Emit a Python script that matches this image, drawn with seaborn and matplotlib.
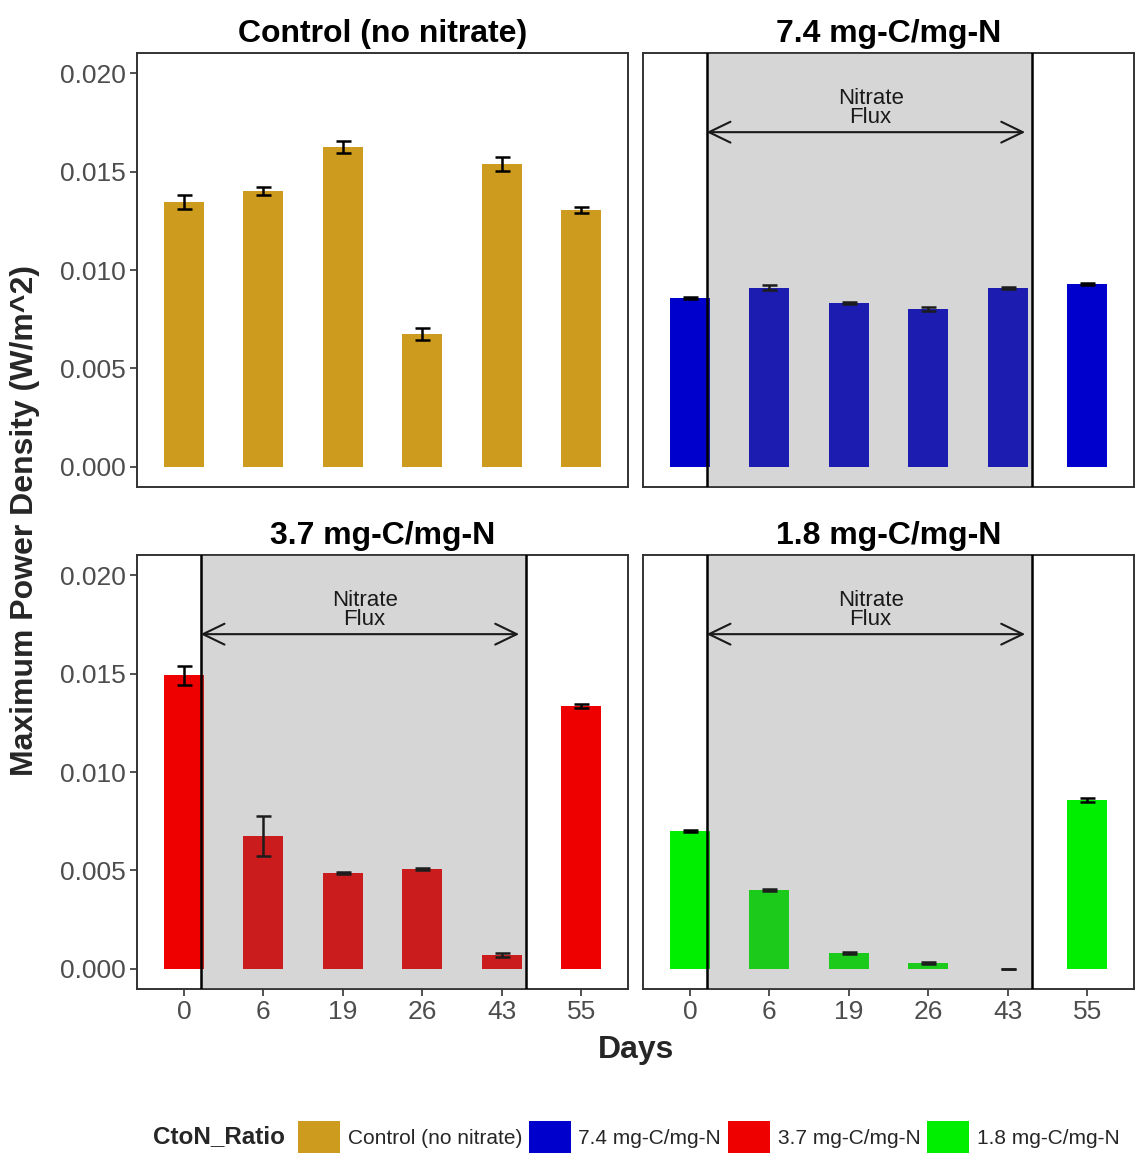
import matplotlib
matplotlib.use("Agg")
import matplotlib.pyplot as plt
from matplotlib.patches import Patch
import seaborn as sns
import pandas as pd
import numpy as np

sns.set_style("white")
plt.rcParams['font.family'] = ['Liberation Sans', 'DejaVu Sans']

days = ["0", "6", "19", "26", "43", "55"]
groups = ["Control (no nitrate)", "7.4 mg-C/mg-N", "3.7 mg-C/mg-N", "1.8 mg-C/mg-N"]
colors = ["#CD9B1D", "#0000CD", "#EE0000", "#00EE00"]

control_vals = [0.01345, 0.01400, 0.01624, 0.00675, 0.01538, 0.01305]
control_err = [0.00036, 0.00020, 0.00030, 0.00028, 0.00036, 0.00015]
c74_vals = [0.00858, 0.00909, 0.00832, 0.00802, 0.00909, 0.00929]
c74_err = [0.00005, 0.00013, 0.00004, 0.00008, 0.00007, 0.00005]
c37_vals = [0.01492, 0.00675, 0.00487, 0.00508, 0.00071, 0.01335]
c37_err = [0.00048, 0.00100, 0.00004, 0.00004, 0.00010, 0.00010]
c18_vals = [0.00700, 0.00401, 0.00081, 0.00030, 0.00000, 0.00858]
c18_err = [0.00004, 0.00004, 0.00004, 0.00003, 0.00002, 0.00009]

all_vals = [control_vals, c74_vals, c37_vals, c18_vals]
all_errs = [control_err, c74_err, c37_err, c18_err]

df = pd.DataFrame({
    "CtoN_Ratio": np.repeat(groups, len(days)),
    "Day": days * len(groups),
    "Power": np.concatenate(all_vals),
    "Err": np.concatenate(all_errs),
})

flux_start, flux_end = 0.21, 4.3
arrow_y = 0.0170
text_y = 0.01822

W, H = 1139, 1156
fig = plt.figure(figsize=(W / 100, H / 100), dpi=100)
pos = {
    0: (137, 53), 1: (643, 53), 2: (137, 555), 3: (643, 555)
}
pw, ph = 491, 434
dark = "#333333"
tickc = "#4d4d4d"

for i, g in enumerate(groups):
    x0, y0 = pos[i]
    ax = fig.add_axes([x0 / W, 1 - (y0 + ph) / H, pw / W, ph / H])
    sub = df[df["CtoN_Ratio"] == g]
    sns.barplot(data=sub, x="Day", y="Power", order=days, color=colors[i],
                saturation=1, width=0.5, errorbar=None, ax=ax, linewidth=0, zorder=2)
    xs = np.arange(len(days))
    ax.errorbar(xs, sub["Power"].values, yerr=sub["Err"].values, fmt="none",
                ecolor="black", elinewidth=1.8, capsize=5.4, capthick=1.8, zorder=3)
    if i > 0:
        ax.axvspan(flux_start, flux_end, color=(0.41, 0.41, 0.41), alpha=0.27,
                   lw=0, zorder=4)
        ax.axvline(flux_start, color="black", lw=1.8, zorder=5)
        ax.axvline(flux_end, color="black", lw=1.8, zorder=5)
        ax.annotate("", xy=(flux_start, arrow_y), xytext=(flux_end - 0.08, arrow_y),
                    arrowprops=dict(arrowstyle="<->,head_length=1.55,head_width=0.75",
                                    color="#1a1a1a", lw=1.5, shrinkA=0, shrinkB=0),
                    zorder=6)
        ax.text((flux_start + flux_end) / 2 + 0.02, text_y, "Nitrate\nFlux",
                ha="center", va="center", fontsize=16, color="#1a1a1a",
                linespacing=0.9, zorder=6)
    ax.set_xlim(-0.59, 5.59)
    ax.set_ylim(-0.00102, 0.02102)
    ax.set_yticks([0.0, 0.005, 0.010, 0.015, 0.020])
    ax.set_yticklabels(["0.000", "0.005", "0.010", "0.015", "0.020"])
    ax.set_xlabel("")
    ax.set_ylabel("")
    ax.set_title(g, fontsize=23, fontweight="bold", color="black", pad=8)
    for s in ax.spines.values():
        s.set_color(dark)
        s.set_linewidth(1.4)
        s.set_visible(True)
    ax.tick_params(axis="both", which="both", length=5, width=1.2, color=dark,
                   labelsize=19, labelcolor=tickc, pad=3,
                   left=True, bottom=True)
    if i in (1, 3):
        ax.tick_params(axis="y", labelleft=False, left=False)
    if i in (0, 1):
        ax.tick_params(axis="x", labelbottom=False, bottom=False)
    ax.grid(False)
    ax.set_facecolor("white")

fig.text(25 / W, 1 - 521 / H, "Maximum Power Density (W/m^2)", rotation=90,
         ha="center", va="center", fontsize=23, fontweight="bold")
fig.text(636 / W, 1 - 1050 / H, "Days", ha="center", va="center",
         fontsize=23, fontweight="bold")

fig.text(153 / W, 1 - 1137 / H, "CtoN_Ratio", ha="left", va="center",
         fontsize=17.5, fontweight="bold")
handles = [Patch(facecolor=c, edgecolor="none", label=g) for g, c in zip(groups, colors)]
fig.legend(handles=handles, loc="center left", bbox_to_anchor=(298 / W, 1 - 1137 / H),
           ncol=4, frameon=False, fontsize=15, handlelength=2.0, handleheight=2.0,
           handletextpad=0.38, columnspacing=0.33, borderpad=0, borderaxespad=0)

fig.savefig("out.png", dpi=100, facecolor="white")
